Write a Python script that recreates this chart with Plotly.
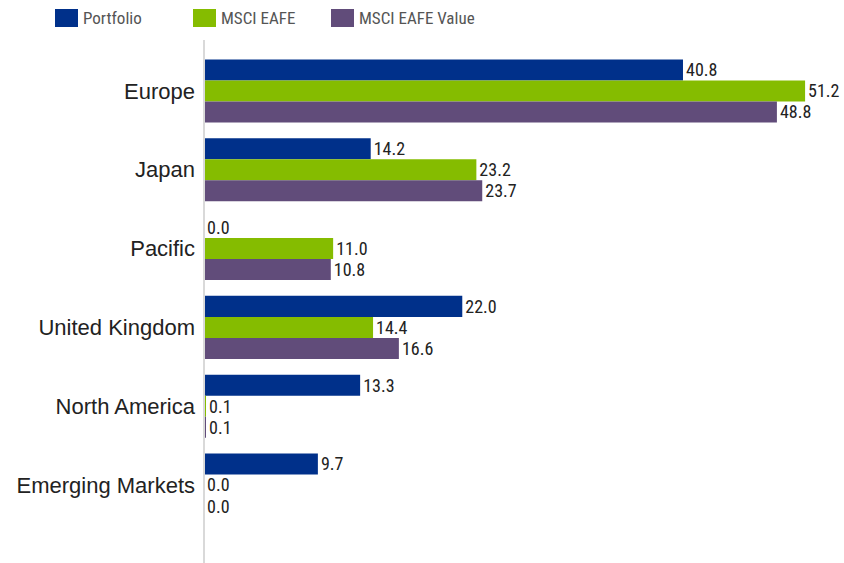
import plotly.graph_objects as go

regions = ["Europe", "Japan", "Pacific", "United Kingdom", "North America", "Emerging Markets"]
series_names = ["Portfolio", "MSCI EAFE", "MSCI EAFE Value"]
portfolio = [40.8, 14.2, 0.0, 22.0, 13.3, 9.7]
msci_eafe = [51.2, 23.2, 11.0, 14.4, 0.1, 0.0]
msci_eafe_value = [48.8, 23.7, 10.8, 16.6, 0.1, 0.0]
colors = ["#00308A", "#85BC00", "#614C7A"]

narrow = "Liberation Sans Narrow, Roboto Condensed, Arial Narrow, Roboto, sans-serif"

fig = go.Figure()
for name, vals, col in zip(series_names, [portfolio, msci_eafe, msci_eafe_value], colors):
    fig.add_trace(go.Bar(
        y=regions, x=vals, name=name, orientation="h",
        marker=dict(color=col, line=dict(width=0)),
        texttemplate="%{x:.1f}", textposition="outside",
        textfont=dict(family=narrow, size=18, color="#222222"),
        constraintext="none",
        cliponaxis=False, showlegend=False,
    ))

W, H = 844, 563
L, R, T, B = 204, 20, 40, 0
pw = W - L - R
ph = H - T - B

fig.update_layout(
    width=W, height=H,
    margin=dict(l=L, r=R, t=T, b=B),
    paper_bgcolor="white", plot_bgcolor="white",
    barmode="group", bargap=0.2, bargroupgap=0,
    xaxis=dict(range=[0, pw / 11.74], visible=False),
    yaxis=dict(
        type="category", range=[5.99, -0.647],
        showgrid=False, zeroline=False,
        showline=False, ticks="",
        tickfont=dict(family="Arial, Liberation Sans, sans-serif", size=22, color="#222222"),
        ticklabelstandoff=8,
    ),
    font=dict(family=narrow),
)

# axis line
fig.add_shape(type="line", xref="paper", yref="paper", x0=0, x1=0, y0=0, y1=1,
              line=dict(color="#d9d9d9", width=2))

# legend drawn manually
leg_x = [55, 193, 331]
for name, col, lx in zip(series_names, colors, leg_x):
    x0 = (lx - L) / pw
    x1 = (lx + 23 - L) / pw
    y0 = (H - 27 - B) / ph
    y1 = (H - 9 - B) / ph
    fig.add_shape(type="rect", xref="paper", yref="paper", x0=x0, x1=x1, y0=y0, y1=y1,
                  fillcolor=col, line=dict(width=0))
    fig.add_annotation(xref="paper", yref="paper", x=(lx + 26 - L) / pw, y=(H - 18 - B) / ph,
                       text=name, showarrow=False, xanchor="left", yanchor="middle",
                       font=dict(family=narrow, size=17, color="#555555"))

fig.write_html("out.html", config={"displayModeBar": False},
               post_script="document.body.style.margin='0';document.body.style.overflow='hidden';")
